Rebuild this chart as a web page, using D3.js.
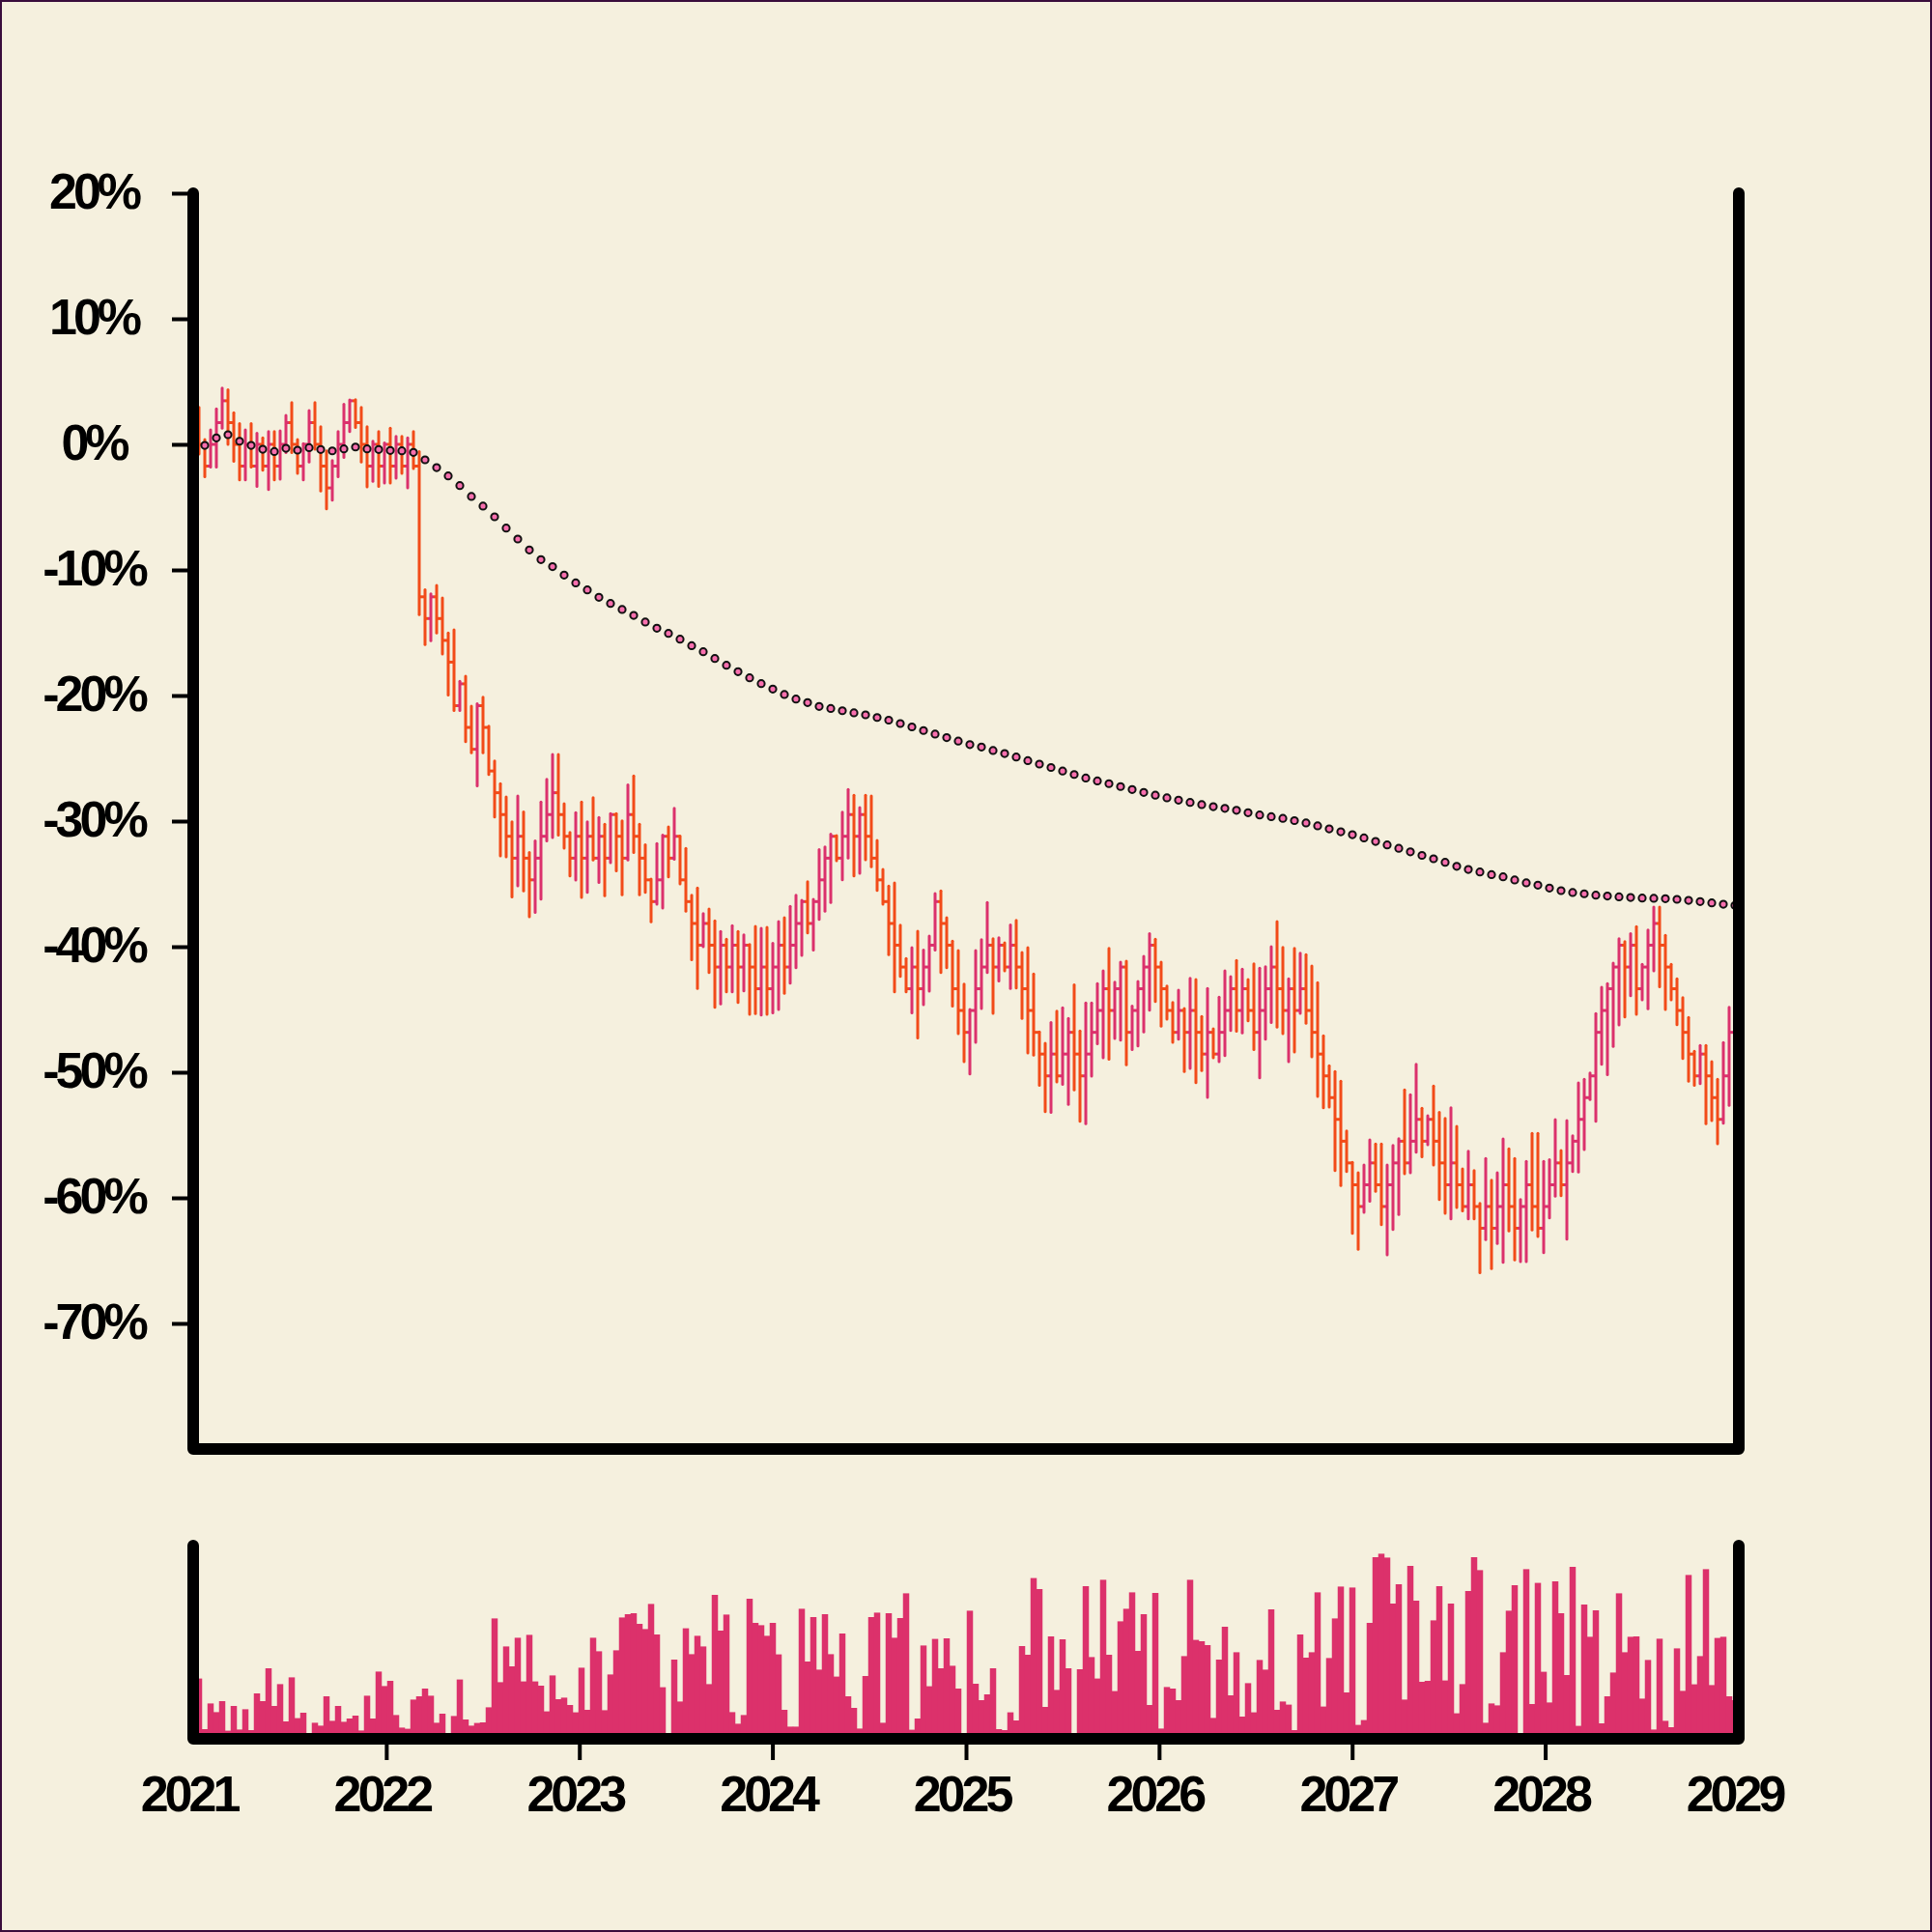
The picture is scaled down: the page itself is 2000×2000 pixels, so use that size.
<!DOCTYPE html>
<html><head><meta charset="utf-8">
<script src="https://cdn.jsdelivr.net/npm/d3@7"></script>
<style>
html,body{margin:0;padding:0;background:#f5f0de;}
svg{display:block;}
</style></head><body>
<svg id="chart" width="2000" height="2000"></svg>
<script>
// ---------------- DATA ----------------
const startYear = 2021;
const endYear = 2029;
const barIntervalDays = 10.9575;   // spacing between bars (days)
const firstOpen = 0;               // % at start
const yearLabels = [2021,2022,2023,2024,2025,2026,2027,2028,2029];
const yTickValues = [20,10,0,-10,-20,-30,-40,-50,-60,-70];

// closing value of each bar (% change)
const closes = [
 1.73,0,-1.73,0,1.73,3.47,1.73,0,-1.73,0,
 -1.73,0,-1.73,0,-1.73,0,1.73,0,-1.73,0,
 1.73,0,-1.73,-3.47,-1.73,0,1.73,3.47,1.73,0,
 -1.73,0,-1.73,0,-1.73,0,-1.73,0,-1.73,-12.14,
 -13.87,-12.14,-13.87,-15.61,-17.34,-20.81,-19.07,-22.54,-24.28,-20.81,
 -22.54,-26.01,-27.74,-29.48,-31.21,-32.95,-31.21,-32.95,-34.68,-32.95,
 -31.21,-29.48,-27.74,-29.48,-31.21,-32.95,-31.21,-32.95,-31.21,-32.95,
 -31.21,-32.95,-29.48,-31.21,-32.95,-29.48,-31.21,-32.95,-34.68,-36.41,
 -34.68,-31.21,-32.95,-31.21,-34.68,-36.41,-38.15,-39.88,-38.15,-39.88,
 -41.62,-39.88,-41.62,-39.88,-41.62,-39.88,-41.62,-43.35,-41.62,-43.35,
 -41.62,-39.88,-41.62,-39.88,-38.15,-36.41,-38.15,-36.41,-34.68,-32.95,
 -31.21,-32.95,-31.21,-29.48,-31.21,-29.48,-31.21,-32.95,-34.68,-36.41,
 -38.15,-39.88,-41.62,-43.35,-41.62,-43.35,-41.62,-39.88,-36.41,-38.15,
 -39.88,-43.35,-45.08,-46.82,-45.08,-43.35,-41.62,-39.88,-41.62,-39.88,
 -41.62,-39.88,-41.62,-43.35,-45.08,-46.82,-48.55,-50.29,-48.55,-50.29,
 -48.55,-46.82,-48.55,-50.29,-48.55,-46.82,-45.08,-43.35,-45.08,-43.35,
 -41.62,-46.82,-45.08,-43.35,-41.62,-39.88,-41.62,-43.35,-45.08,-46.82,
 -45.08,-46.82,-45.08,-46.82,-48.55,-46.82,-48.55,-46.82,-45.08,-43.35,
 -45.08,-43.35,-45.08,-46.82,-45.08,-43.35,-41.62,-43.35,-45.08,-43.35,
 -45.08,-43.35,-45.08,-46.82,-48.55,-50.29,-52.02,-53.75,-55.49,-57.22,
 -58.96,-60.69,-58.96,-57.22,-58.96,-60.69,-58.96,-57.22,-55.49,-57.22,
 -55.49,-53.75,-55.49,-53.75,-55.49,-57.22,-58.96,-57.22,-58.96,-60.69,
 -58.96,-60.69,-62.42,-60.69,-62.42,-60.69,-58.96,-60.69,-62.42,-60.69,
 -58.96,-60.69,-62.42,-60.69,-58.96,-57.22,-58.96,-57.22,-55.49,-53.75,
 -52.02,-50.29,-46.82,-45.08,-43.35,-41.62,-39.88,-41.62,-39.88,-43.35,
 -41.62,-39.88,-38.15,-39.88,-41.62,-43.35,-45.08,-46.82,-48.55,-50.29,
 -48.55,-50.29,-52.02,-53.75,-50.29,-46.82,-45.08
];

const highs = [
 2.0,2.94,0.38,1.15,2.82,4.48,4.35,2.51,1.66,1.15,
 1.66,0.89,0.51,1.02,1.02,1.07,2.30,3.33,0.38,0.05,
 2.69,3.33,1.41,-0.52,-1.29,1.02,3.20,3.53,3.55,2.94,
 1.41,0.25,1.02,0.12,1.28,0.64,0.64,0.51,1.02,-0.58,
 -11.57,-11.9,-11.23,-12.24,-15.02,-14.76,-18.86,-18.46,-20.85,-20.66,
 -20.13,-22.44,-25.22,-27.02,-28.08,-30.06,-28.00,-29.27,-32.50,-31.57,
 -28.48,-26.67,-24.69,-24.69,-28.61,-30.91,-29.32,-28.48,-30.06,-28.13,
 -29.72,-30.25,-29.40,-29.40,-29.99,-27.12,-26.41,-30.25,-31.89,-34.62,
 -31.79,-31.12,-30.46,-28.98,-31.2,-32.18,-35.9,-35.33,-37.36,-37.0,
 -37.95,-38.79,-39.41,-38.33,-38.79,-39.05,-39.82,-38.38,-38.54,-38.46,
 -39.74,-38.0,-37.69,-36.79,-35.9,-36.3,-34.82,-36.23,-32.26,-32.05,
 -31.03,-31.15,-29.28,-27.49,-27.95,-28.92,-27.95,-28.0,-31.54,-33.85,
 -35.18,-34.92,-38.28,-40.95,-40.08,-38.77,-40.26,-39.15,-35.77,-35.56,
 -37.69,-39.56,-40.31,-42.99,-45.0,-40.31,-39.44,-36.49,-39.36,-39.28,
 -39.69,-38.26,-37.9,-40.46,-40.08,-42.18,-46.79,-47.69,-46.03,-45.13,
 -44.87,-45.72,-43.03,-46.72,-44.49,-44.49,-42.95,-41.92,-40.13,-42.82,
 -41.23,-41.15,-44.74,-42.77,-40.77,-38.97,-39.41,-41.23,-43.13,-44.44,
 -43.46,-44.92,-42.51,-42.62,-45.56,-43.33,-46.54,-44.02,-41.92,-42.38,
 -41.1,-41.79,-42.62,-41.36,-41.72,-41.59,-40.0,-38.0,-40.05,-42.56,
 -40.13,-40.51,-40.64,-41.54,-42.87,-47.1,-49.49,-49.95,-50.72,-54.67,
 -57.18,-58.0,-57.38,-55.38,-55.72,-55.72,-57.38,-55.82,-55.28,-51.41,
 -51.79,-49.36,-52.87,-53.46,-51.1,-53.2,-53.67,-52.82,-54.31,-57.69,
 -56.28,-57.82,-60.44,-56.87,-58.59,-58.0,-55.31,-56.1,-56.87,-60.13,
 -57.1,-54.87,-54.87,-57.1,-56.97,-53.77,-56.23,-53.85,-55.05,-50.85,
 -50.56,-50.05,-45.33,-43.23,-42.95,-41.3,-39.36,-39.6,-38.97,-38.41,
 -41.41,-38.67,-36.85,-36.85,-39.1,-41.41,-42.56,-44.05,-45.64,-48.33,
 -47.87,-47.87,-49.15,-50.56,-47.64,-44.82,-44.5
];

const lows = [
 -0.8,-0.77,-2.57,-1.8,-1.8,1.28,0.0,-1.34,-2.82,-2.82,
 -1.8,-3.34,-2.06,-3.59,-2.82,-2.77,-0.65,-0.65,-2.31,-2.82,
 -1.41,-0.39,-3.72,-5.13,-4.44,-2.57,-1.03,1.02,1.35,-1.41,
 -3.39,-2.95,-3.34,-3.08,-3.08,-2.70,-2.31,-3.47,-1.93,-13.56,
 -15.95,-15.63,-15.02,-16.69,-19.97,-21.19,-21.19,-23.68,-24.55,-27.20,
 -24.55,-26.28,-29.67,-32.77,-32.85,-36.03,-35.15,-35.55,-37.61,-37.27,
 -36.21,-31.57,-31.31,-31.12,-32.16,-34.36,-34.70,-36.08,-35.68,-33.10,
 -34.89,-35.95,-33.30,-33.96,-35.87,-33.10,-32.50,-35.87,-35.68,-38.01,
 -36.61,-36.93,-34.44,-33.03,-35.0,-37.18,-41.03,-43.33,-40.0,-42.05,
 -44.82,-44.56,-43.59,-43.59,-44.44,-43.51,-45.38,-45.33,-45.44,-45.38,
 -45.26,-45.0,-43.72,-42.9,-41.67,-40.69,-38.9,-40.26,-37.82,-37.18,
 -36.49,-33.15,-34.67,-32.95,-34.36,-34.15,-33.08,-33.64,-35.51,-36.61,
 -40.64,-43.59,-42.36,-43.59,-45.26,-47.26,-44.62,-43.54,-40.26,-42.05,
 -41.67,-44.74,-46.92,-49.15,-50.13,-47.62,-44.92,-42.05,-45.31,-42.74,
 -41.92,-43.33,-43.28,-45.72,-48.46,-48.64,-51.03,-53.13,-53.2,-50.77,
 -50.97,-52.56,-51.41,-53.9,-54.1,-50.31,-47.74,-48.85,-48.97,-47.31,
 -47.44,-49.41,-48.2,-47.9,-46.79,-45.05,-44.36,-46.33,-45.77,-47.62,
 -47.36,-49.95,-49.69,-50.82,-49.87,-52.0,-48.85,-49.15,-48.67,-46.67,
 -46.74,-46.87,-45.9,-48.2,-50.44,-47.36,-46.03,-46.41,-46.92,-49.15,
 -48.38,-45.31,-46.1,-48.77,-51.92,-52.82,-52.77,-57.82,-59.02,-57.9,
 -62.82,-64.1,-61.15,-60.26,-59.49,-62.13,-64.54,-62.51,-61.33,-58.08,
 -58.0,-56.36,-56.74,-55.77,-57.38,-60.13,-61.23,-61.67,-60.77,-61.03,
 -61.67,-61.67,-65.97,-63.33,-65.64,-63.64,-65.13,-62.64,-64.95,-65.08,
 -65.08,-62.56,-63.08,-64.36,-61.59,-59.87,-59.82,-63.28,-57.9,-57.95,
 -56.15,-52.18,-53.9,-49.36,-50.2,-47.95,-46.23,-45.59,-43.9,-45.38,
 -44.23,-44.95,-41.92,-43.2,-45.0,-44.23,-46.21,-48.9,-50.72,-51.03,
 -50.9,-54.1,-53.85,-55.69,-54.05,-52.64,-48.5
];

// volume of each bar (relative units, 0-100)
const volumes = [
 25,31.2,5.0,18.3,13.8,19.5,4.2,17.0,4.8,15.3,
 4.5,23.5,19.5,36.5,17.0,28.3,9.0,31.8,10.7,13.5,
 1,8.3,6.8,22.0,9.3,17.0,8.8,10.5,12.0,4.3,
 22.3,10.5,34.8,27.3,30.0,12.3,5.8,5.2,20.3,22.0,
 26.0,22.3,8.3,13.0,1,11.8,30.7,10.0,6.8,8.2,
 8.5,16.3,62.3,29.3,47.8,37.5,52.3,29.7,53.8,29.7,
 27.5,14.2,32.8,20.5,21.3,17.5,13.7,36.8,15.0,52.3,
 45.3,14.8,33.3,45.8,62.8,64.5,65.0,59.5,56.8,69.8,
 54.0,26.7,1,41.0,19.3,57.2,43.8,53.3,47.8,28.3,
 74.5,56.0,64.3,13.8,7.8,12.3,72.5,60.0,58.8,53.3,
 60.0,43.7,15.0,6.3,6.3,67.3,40.0,63.0,35.8,64.5,
 43.8,32.2,54.5,22.0,16.0,5.3,32.5,63.0,65.3,8.3,
 65.0,52.3,62.5,75.3,4.7,10.5,48.3,27.2,51.7,36.5,
 52.0,37.8,26.0,1,66.3,28.5,20.0,23.0,36.5,5.0,
 4.5,13.7,9.5,48.0,43.5,83.2,77.5,16.5,53.0,25.3,
 51.5,36.5,1.7,36.0,79.0,42.3,31.2,82.3,43.5,24.7,
 60.8,67.3,75.8,45.5,64.5,17.5,75.5,5.3,26.8,26.0,
 20.0,42.8,82.3,51.2,50.5,48.5,10.8,41.0,58.0,22.5,
 44.8,11.5,28.8,13.7,40.8,35.8,67.0,15.0,19.3,17.7,
 4.5,54.0,42.0,44.8,75.8,16.7,41.8,62.3,78.8,24.0,
 78.3,7.2,9.7,60.0,94.0,95.8,93.8,70.0,80.0,20.3,
 89.5,71.5,29.5,30.0,61.3,79.0,30.2,70.0,13.2,28.3,
 76.5,94.0,87.3,8.3,18.3,17.3,44.8,66.3,79.5,1,
 87.8,18.0,80.7,34.7,18.8,81.5,65.0,33.0,89.0,6.7,
 69.5,52.8,66.5,8.0,22.0,34.3,75.3,44.8,52.8,53.0,
 20.8,40.8,4.8,51.8,9.3,6.0,46.8,24.8,84.8,28.2,
 42.8,87.8,27.8,52.2,52.8,22.0,20
];

// running average line, one dot every second bar (%)
const avgEvery = 2;
const avgValues = [
 0.9,-0.08,0.51,0.77,0.25,-0.08,-0.39,-0.57,-0.31,-0.46,
 -0.26,-0.41,-0.52,-0.36,-0.21,-0.36,-0.41,-0.49,-0.51,-0.64,
 -1.23,-1.85,-2.51,-3.28,-4.15,-4.92,-5.77,-6.67,-7.54,-8.41,
 -9.18,-9.74,-10.41,-11.03,-11.59,-12.18,-12.67,-13.15,-13.62,-14.15,
 -14.64,-15.05,-15.51,-16.03,-16.51,-17.05,-17.59,-18.10,-18.59,-19.05,
 -19.49,-19.92,-20.28,-20.56,-20.87,-21.03,-21.21,-21.38,-21.54,-21.75,
 -21.96,-22.23,-22.50,-22.79,-23.07,-23.35,-23.63,-23.91,-24.10,-24.38,
 -24.62,-24.90,-25.19,-25.46,-25.73,-26.01,-26.29,-26.57,-26.80,-27.02,
 -27.25,-27.49,-27.72,-27.94,-28.15,-28.33,-28.51,-28.69,-28.85,-28.99,
 -29.14,-29.33,-29.51,-29.65,-29.78,-29.96,-30.15,-30.38,-30.62,-30.85,
 -31.08,-31.34,-31.62,-31.90,-32.17,-32.45,-32.73,-33.00,-33.28,-33.60,
 -33.85,-34.05,-34.26,-34.44,-34.69,-34.92,-35.10,-35.33,-35.54,-35.69,
 -35.79,-35.90,-35.97,-36.03,-36.08,-36.13,-36.15,-36.18,-36.23,-36.31,
 -36.41,-36.51,-36.62,-36.72
];

// ---------------- STYLE ----------------
const BG = "#f5f0de";
const UP = "#db316c";
const DOWN = "#f24b19";
const VOL = "#dc316b";
const DOT = "#f86fae";
const FONT = "'Liberation Sans', Arimo, Arial, Helvetica, sans-serif";

// ---------------- CHART ----------------
const svg = d3.select("#chart");
svg.append("rect").attr("width", 2000).attr("height", 2000).attr("fill", BG);

const t0 = Date.UTC(startYear, 0, 1);
const x = d3.scaleUtc()
  .domain([new Date(t0), new Date(Date.UTC(endYear, 0, 1))])
  .range([200, 1800]);
const y = d3.scaleLinear().domain([-80, 20]).range([1500, 200]);
const yv = d3.scaleLinear().domain([0, 100]).range([1800, 1600]);

const dates = closes.map((_, i) => new Date(t0 + i * barIntervalDays * 864e5));
const bars = closes.map((c, i) => ({
  date: dates[i],
  open: i === 0 ? firstOpen : closes[i - 1],
  close: c,
  high: highs[i],
  low: lows[i],
  volume: volumes[i]
}));

const half = (x(dates[1]) - x(dates[0])) / 2;

// volume bars
svg.append("g").selectAll("rect").data(bars).join("rect")
  .attr("x", d => x(d.date) - half - 0.25)
  .attr("width", half * 2 + 0.5)
  .attr("y", d => yv(d.volume))
  .attr("height", d => yv(0) - yv(d.volume))
  .attr("fill", VOL);

// OHLC bars
const ohlc = svg.append("g").attr("fill", "none");
const bg = ohlc.selectAll("g").data(bars).join("g")
  .attr("stroke", d => d.close >= d.open ? UP : DOWN)
  .attr("stroke-width", 3);
bg.append("line")
  .attr("x1", d => x(d.date)).attr("x2", d => x(d.date))
  .attr("y1", d => y(d.high)).attr("y2", d => y(d.low))
  .attr("stroke-linecap", "round");
bg.append("line")
  .attr("x1", d => x(d.date) - half).attr("x2", d => x(d.date))
  .attr("y1", d => y(d.open)).attr("y2", d => y(d.open));
bg.append("line")
  .attr("x1", d => x(d.date)).attr("x2", d => x(d.date) + half)
  .attr("y1", d => y(d.close)).attr("y2", d => y(d.close));

// running average dots
svg.append("g").selectAll("circle").data(avgValues).join("circle")
  .attr("cx", (v, k) => x(dates[k * avgEvery]))
  .attr("cy", v => y(v))
  .attr("r", 3.6)
  .attr("fill", DOT)
  .attr("stroke", "#111")
  .attr("stroke-width", 2);

// y axis (ticks + labels)
const yAxis = svg.append("g").attr("transform", `translate(${x.range()[0]},0)`)
  .call(d3.axisLeft(y).tickValues(yTickValues).tickSize(22).tickFormat(d => d + "%"));
yAxis.select(".domain").remove();
yAxis.selectAll(".tick line").attr("stroke", "#000").attr("stroke-width", 4);
yAxis.selectAll(".tick text")
  .attr("x", -103).attr("dy", "0.3em")
  .attr("text-anchor", "middle")
  .attr("fill", "#000")
  .style("font-family", FONT).style("font-weight", "bold")
  .style("font-size", "52px").style("letter-spacing", "-4px");

// x axis (under the volume panel)
const yearDates = yearLabels.map(yr => new Date(Date.UTC(yr, 0, 1)));
const xAxis = svg.append("g").attr("transform", `translate(0,${yv.range()[0]})`)
  .call(d3.axisBottom(x).tickValues(yearDates).tickSize(22).tickFormat(d3.utcFormat("%Y")));
xAxis.select(".domain").remove();
xAxis.selectAll(".tick line").attr("stroke", "#000").attr("stroke-width", 4)
  .attr("display", (d, i) => (i === 0 || i === yearDates.length - 1) ? "none" : null);
xAxis.selectAll(".tick text")
  .attr("y", 75).attr("dy", 0).attr("dx", -5)
  .attr("fill", "#000")
  .style("font-family", FONT).style("font-weight", "bold")
  .style("font-size", "52px").style("letter-spacing", "-4px");

// thick frames
const [xl, xr] = x.range();
const frame = (top, bottom) => `M${xl},${top}V${bottom}H${xr}V${top}`;
svg.append("path").attr("d", frame(y.range()[1], y.range()[0]))
  .attr("fill", "none").attr("stroke", "#000").attr("stroke-width", 12)
  .attr("stroke-linecap", "round").attr("stroke-linejoin", "round");
svg.append("path").attr("d", frame(yv.range()[1], yv.range()[0]))
  .attr("fill", "none").attr("stroke", "#000").attr("stroke-width", 12)
  .attr("stroke-linecap", "round").attr("stroke-linejoin", "round");

// outer border
svg.append("rect").attr("x", 1).attr("y", 1).attr("width", 1998).attr("height", 1998)
  .attr("fill", "none").attr("stroke", "#3a0d3c").attr("stroke-width", 2);
</script>
</body></html>
